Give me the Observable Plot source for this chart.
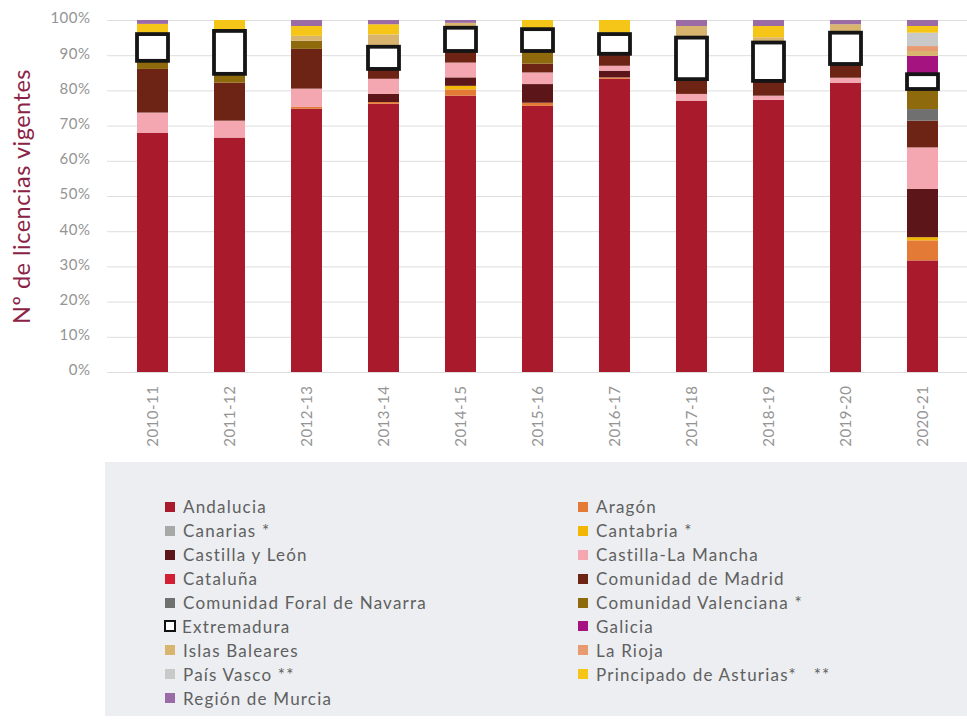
<!DOCTYPE html>
<html>
<head>
<meta charset="utf-8">
<script src="https://cdn.jsdelivr.net/npm/d3@7"></script>
<script src="https://cdn.jsdelivr.net/npm/@observablehq/plot@0.6"></script>
<style>
  html, body { margin: 0; padding: 0; background: #fff; }
  body { width: 967px; height: 720px; overflow: hidden; font-family: Lato, "Open Sans", sans-serif; }
  #chart { width: 967px; height: 462px; }
  #legend {
    position: absolute; left: 105px; top: 462px; width: 862px; height: 254px;
    background: #ECEEF1; box-sizing: border-box; padding-top: 33px;
    display: grid; grid-template-columns: 413px 300px; grid-auto-rows: 23.9px;
    padding-left: 60px;
  }
  .item { display: flex; align-items: center; font-size: 17px; color: #606060; letter-spacing: 1.2px; white-space: pre; }
  .sw { width: 10px; height: 10px; margin-right: 8px; flex: none; }
  .sw.box { width: 8px; height: 8px; border: 2.5px solid #111; background: #fff; margin-left: -1px; margin-right: 6px; }
</style>
</head>
<body>
<div id="chart"></div>
<div id="legend"></div>
<script>
const years = ["2010-11","2011-12","2012-13","2013-14","2014-15","2015-16","2016-17","2017-18","2018-19","2019-20","2020-21"];

const regions = ["Andalucia","Aragón","Canarias *","Cantabria *","Castilla y León","Castilla-La Mancha","Cataluña","Comunidad de Madrid","Comunidad Foral de Navarra","Comunidad Valenciana *","Extremadura","Galicia","Islas Baleares","La Rioja","País Vasco **","Principado de Asturias*   **","Región de Murcia"];

const colors = ["#A91B2C","#E37A35","#A8A8A8","#F2B705","#5C1518","#F4A7B0","#D21F34","#6E2414","#707070","#8E6A0C","#FFFFFF","#A4137F","#D9B46E","#E89A70","#C9C9C9","#F5C518","#9B6BA5"];

// Share of licences (%) per season, one array per region, in the order of `years`
const andalucia    = [68.0, 66.6, 74.8, 76.2, 78.5, 75.6, 83.3, 77.1, 77.3, 82.2, 31.7];
const aragon       = [0, 0, 0.5, 0.5, 1.8, 0.9, 0.4, 0, 0, 0, 5.7];
const canarias     = [0, 0, 0, 0, 0, 0, 0, 0, 0, 0, 0];
const cantabria    = [0, 0, 0, 0, 1.0, 0, 0, 0, 0, 0, 0.9];
const castillaLeon = [0, 0, 0, 2.3, 2.4, 5.3, 1.9, 0, 0, 0, 13.7];
const castillaLM   = [5.7, 4.8, 5.2, 4.3, 4.2, 3.3, 1.4, 1.9, 1.2, 1.4, 11.8];
const cataluna     = [0, 0, 0, 0, 0, 0, 0, 0, 0, 0, 0];
const madrid       = [12.4, 10.8, 11.3, 2.8, 3.3, 2.5, 3.4, 4.2, 4.2, 3.9, 7.6];
const navarra      = [0, 0, 0, 0, 0, 0, 0, 0, 0, 0, 3.3];
const valenciana   = [2.3, 2.5, 2.3, 0, 0, 3.6, 0, 0, 0, 0, 5.7];
const extremadura  = [7.6, 12.2, 0, 6.3, 6.6, 6.2, 5.6, 11.8, 10.9, 8.9, 4.2];
const galicia      = [0, 0, 0, 0, 0, 0, 0, 0, 0, 0, 5.2];
const baleares     = [0, 0, 1.4, 3.5, 1.4, 0, 0.5, 3.3, 1.5, 2.4, 1.4];
const rioja        = [0, 0, 0, 0, 0, 0, 0, 0, 0, 0, 1.4];
const paisVasco    = [0, 0, 0, 0, 0, 0, 0, 0, 0, 0, 3.8];
const asturias     = [2.9, 3.1, 2.8, 2.9, 0, 2.6, 3.5, 0, 3.2, 0, 1.9];
const murcia       = [1.1, 0, 1.7, 1.2, 0.8, 0, 0, 1.7, 1.7, 1.2, 1.7];

const yTicks = [0, 10, 20, 30, 40, 50, 60, 70, 80, 90, 100];
const yTitle = "Nº de licencias vigentes";

const series = [andalucia, aragon, canarias, cantabria, castillaLeon, castillaLM, cataluna, madrid, navarra, valenciana, extremadura, galicia, baleares, rioja, paisVasco, asturias, murcia];

const data = [];
years.forEach((yr, i) => {
  regions.forEach((r, j) => {
    const v = series[j][i];
    if (v > 0) data.push({year: yr, region: r, value: v});
  });
});

const chart = Plot.plot({
  width: 967,
  height: 462,
  marginTop: 20,
  marginBottom: 90,
  marginLeft: 107,
  marginRight: 0,
  style: {fontFamily: "Lato, 'Open Sans', sans-serif", fontSize: "15px", color: "#949494", background: "white", letterSpacing: "0.5px"},
  x: {domain: years, paddingInner: 0.6, paddingOuter: 0.335, label: null},
  y: {domain: [0, 100], label: null},
  color: {domain: regions, range: colors},
  marks: [
    Plot.gridY(yTicks, {stroke: "#dedede", strokeOpacity: 1, strokeWidth: 1}),
    Plot.barY(data, Plot.stackY({x: "year", y: "value", fill: "region", order: regions})),
    Plot.barY(data, Plot.stackY({x: "year", y: "value", z: "region", order: regions,
      fill: "none", stroke: "#151515", strokeWidth: 3.8,
      strokeOpacity: d => d.region === "Extremadura" ? 1 : 0})),
    Plot.axisY(yTicks, {tickSize: 0, tickPadding: 17, tickFormat: d => d + "%", label: null, fill: "#949494", dy: -2}),
    Plot.axisX({tickSize: 0, tickPadding: 13, tickRotate: -90, label: null, fill: "#949494"}),
    Plot.text([yTitle], {frameAnchor: "left", textAnchor: "middle", rotate: -90, dx: -85, fill: "#8B2346", fontSize: 23.5, text: d => d})
  ]
});
document.getElementById("chart").appendChild(chart);

// Legend (row order of the original: two columns)
const legend = document.getElementById("legend");
regions.forEach((r, j) => {
  const item = document.createElement("div");
  item.className = "item";
  const sw = document.createElement("span");
  sw.className = r === "Extremadura" ? "sw box" : "sw";
  if (r !== "Extremadura") sw.style.background = colors[j];
  item.appendChild(sw);
  const t = document.createElement("span");
  t.textContent = r;
  item.appendChild(t);
  legend.appendChild(item);
});
</script>
</body>
</html>
